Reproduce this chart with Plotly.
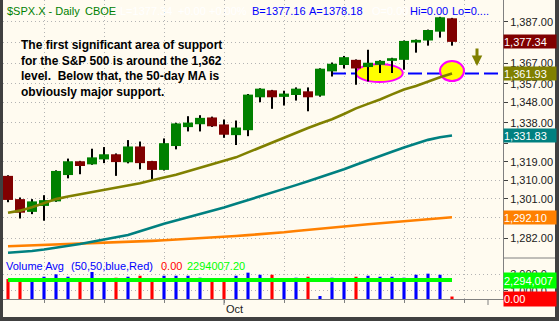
import plotly.graph_objects as go

# ---------------- data ----------------
opens = [1312.2, 1300.9, 1294.7, 1297.6, 1299.8, 1312.6, 1319.3, 1317.8, 1320.2, 1322.7,
         1318.8, 1326.5, 1319.4, 1315.1, 1326.7, 1335.9, 1337.3, 1340.6, 1337.2, 1332.0,
         1334.4, 1350.4, 1353.8, 1350.6, 1351.5, 1353.3, 1351.2, 1363.0, 1366.1, 1368.6,
         1365.1, 1366.2, 1368.1, 1368.6, 1377.0, 1378.0, 1382.3, 1388.8]
highs = [1312.5, 1301.7, 1300.9, 1302.8, 1314.9, 1320.6, 1319.5, 1325.4, 1326.2, 1323.1,
         1329.6, 1328.9, 1319.5, 1330.4, 1338.0, 1341.2, 1341.7, 1341.0, 1339.6, 1339.1,
         1352.0, 1354.8, 1354.0, 1353.6, 1355.2, 1355.2, 1364.5, 1367.3, 1370.5, 1368.8,
         1373.5, 1368.4, 1369.6, 1378.0, 1378.5, 1383.3, 1389.5, 1389.0]
lows = [1299.4, 1291.5, 1293.6, 1290.4, 1299.6, 1311.0, 1313.0, 1317.6, 1318.4, 1312.2,
        1318.3, 1315.4, 1310.6, 1314.8, 1325.1, 1333.8, 1333.8, 1336.0, 1330.7, 1327.2,
        1331.5, 1348.0, 1344.8, 1346.4, 1348.8, 1343.6, 1350.7, 1360.5, 1364.4, 1356.5,
        1358.1, 1362.2, 1362.2, 1363.8, 1372.1, 1375.5, 1379.4, 1375.5]
closes = [1300.5, 1294.3, 1299.8, 1300.4, 1314.6, 1319.3, 1317.0, 1321.2, 1322.7, 1318.9,
          1326.5, 1318.4, 1315.1, 1328.1, 1337.7, 1338.1, 1340.4, 1336.3, 1332.2, 1335.7,
          1351.7, 1354.6, 1350.4, 1352.2, 1354.6, 1350.4, 1364.3, 1366.7, 1369.9, 1364.4,
          1367.2, 1368.1, 1369.4, 1377.8, 1378.3, 1383.1, 1389.3, 1377.34]

ma20 = [1294.3, 1295.3, 1297.0, 1298.8, 1300.9, 1302.2, 1303.3, 1304.3, 1305.4, 1306.4,
        1307.4, 1308.6, 1310.1, 1311.4, 1312.7, 1314.4, 1316.1, 1317.8, 1319.5, 1321.2,
        1323.6, 1326.0, 1328.2, 1330.9, 1333.3, 1335.5, 1337.7, 1339.7, 1342.3, 1345.0,
        1347.2, 1349.3, 1351.8, 1354.2, 1355.9, 1358.1, 1360.1, 1361.93]
ma50 = [1274.8, 1275.2, 1275.7, 1276.4, 1277.2, 1278.1, 1279.1, 1280.2, 1281.3, 1282.4,
        1283.5, 1285.3, 1287.2, 1288.9, 1290.5, 1292.0, 1293.6, 1295.2, 1296.8, 1298.6,
        1300.4, 1302.1, 1303.8, 1305.7, 1307.7, 1309.6, 1311.5, 1313.4, 1315.4, 1317.6,
        1319.8, 1321.8, 1323.9, 1326.0, 1328.0, 1329.7, 1331.0, 1331.83]
ma200 = [1278.0, 1278.2, 1278.3, 1278.5, 1278.7, 1278.9, 1279.1, 1279.3, 1279.6, 1279.8,
         1280.1, 1280.3, 1280.6, 1280.9, 1281.2, 1281.5, 1281.8, 1282.2, 1282.6, 1283.0,
         1283.4, 1283.8, 1284.3, 1284.8, 1285.4, 1286.0, 1286.6, 1287.1, 1287.7, 1288.2,
         1288.7, 1289.2, 1289.7, 1290.2, 1290.6, 1291.0, 1291.6, 1292.10]

# volume in millions of shares, direction u = blue / d = red
volume = [2.42, 2.42, 2.29, 2.69, 2.98, 2.69, 2.42, 3.26, 2.42, 2.57,
          2.69, 2.81, 2.29, 2.81, 2.81, 2.81, 2.57, 2.42, 2.29, 2.81,
          3.18, 2.93, 2.93, 2.09, 2.57, 2.69, 0.36, 2.57, 2.42, 2.69,
          2.81, 2.69, 2.69, 2.57, 2.93, 3.06, 2.93, 0.30]
vol_dir = ['d', 'd', 'u', 'u', 'u', 'u', 'd', 'u', 'u', 'd',
           'u', 'd', 'd', 'u', 'u', 'u', 'u', 'd', 'd', 'u',
           'u', 'u', 'd', 'u', 'u', 'd', 'u', 'u', 'u', 'd',
           'u', 'u', 'u', 'u', 'u', 'u', 'u', 'd']
vol_avg = 2.294007
vol_avg_text = "2294007.20"
vol_avg_label = "2,294,007"
vol_red_value = 0.00

support_level = 1362

price_ticks = [1282, 1292, 1301, 1310, 1319, 1328, 1338, 1348, 1357, 1367, 1377, 1387]
# labels fully covered by the value boxes in the original are left blank
price_ticktext = ["1,282.00", "", "1,301.00", "1,310.00", "1,319.00", "",
                  "1,338.00", "1,348.00", "1,357.00", "1,367.00", "", "1,387.00"]
vol_ticks = [1.0, 3.0]
vol_ticktext = ["1,000.0", "3,000.0"]
week_ticks = [3, 8, 13, 18, 23, 28, 33, 38]
month_ticks = [18, 40]
month_labels = ["Oct", ""]

header_items = [
    ("$SPX.X - Daily", "#008000"), ("CBOE", "#008000"), ("L=1377.34", "#FFFFFF"),
    ("+0.00", "#FFFFFF"), ("+0.00%", "#FFFFFF"), ("B=1377.16", "#0000FF"),
    ("A=1378.18", "#0000FF"), ("O=0.00", "#FFFFFF"), ("Hi=0.00", "#0000FF"),
    ("Lo=0....", "#0000FF"),
]
note_text = ("The first significant area of support<br>for the S&P 500 is around the 1,362<br>"
             "level.  Below that, the 50-day MA is<br>obviously major support.")

# ---------------- layout helpers ----------------
W, H = 559, 321
BG = "#FFFBF0"
FONT = "Liberation Sans, Arial, sans-serif"
GRID = "#B4B4B4"
AX = "#808080"


def fx(p):
    return p / W


def fy(p):
    return 1 - p / H


n = len(closes)
idx = list(range(n))
up = [c >= o for o, c in zip(opens, closes)]

fig = go.Figure()

# wicks
fig.add_trace(go.Bar(x=idx, y=[h - l for h, l in zip(highs, lows)], base=lows, width=0.17,
                     marker=dict(color="#000000", line=dict(width=0)),
                     xaxis="x", yaxis="y", hoverinfo="skip"))
# bodies
fig.add_trace(go.Bar(x=idx, y=[max(abs(c - o), 0.5) for o, c in zip(opens, closes)],
                     base=[min(o, c) for o, c in zip(opens, closes)], width=0.83,
                     marker=dict(color=["#008000" if u else "#800000" for u in up],
                                 line=dict(width=0)),
                     xaxis="x", yaxis="y", hoverinfo="skip"))
# moving averages
for vals, col in [(ma200, "#FF8000"), (ma50, "#008080"), (ma20, "#808000")]:
    fig.add_trace(go.Scatter(x=idx, y=vals, mode="lines", line=dict(color=col, width=2.6),
                             xaxis="x", yaxis="y", hoverinfo="skip"))

# volume
fig.add_trace(go.Scatter(x=idx, y=[vol_avg] * n, mode="lines",
                         line=dict(color="#00FF00", width=4), xaxis="x", yaxis="y2",
                         hoverinfo="skip"))
fig.add_trace(go.Bar(x=idx, y=volume, width=0.26,
                     marker=dict(color=["#0000FF" if d == "u" else "#FF0000" for d in vol_dir],
                                 line=dict(width=0)),
                     xaxis="x", yaxis="y2", hoverinfo="skip"))

shapes = [
    # support line
    dict(type="line", xref="x", yref="y", x0=27, x1=41, y0=support_level, y1=support_level,
         line=dict(color="#0000FF", width=2, dash="14px,5px"), layer="between"),
    # highlight ellipses
    dict(type="circle", xref="x", yref="y", x0=29.0, x1=32.9, y0=1357.8, y1=1366.6,
         fillcolor="#FFFF00", line=dict(color="#FF00FF", width=2), layer="between"),
    dict(type="circle", xref="x", yref="y", x0=36.0, x1=38.0, y0=1358.3, y1=1368.0,
         fillcolor="#FFFF00", line=dict(color="#FF00FF", width=2), layer="between"),
    # pane separator on the scale
    dict(type="line", xref="paper", yref="paper", x0=fx(503), x1=fx(555), y0=fy(258), y1=fy(258),
         line=dict(color=AX, width=1)),
    # frame
    dict(type="rect", xref="paper", yref="paper", x0=0, x1=fx(3), y0=0, y1=1,
         fillcolor="#404040", line=dict(width=0), layer="above"),
    dict(type="rect", xref="paper", yref="paper", x0=fx(555), x1=1, y0=0, y1=1,
         fillcolor="#404040", line=dict(width=0), layer="above"),
    dict(type="rect", xref="paper", yref="paper", x0=0, x1=1, y0=0, y1=fy(317),
         fillcolor="#404040", line=dict(width=0), layer="above"),
]
for m in month_ticks:
    shapes.append(dict(type="line", xref="x", yref="paper", x0=m, x1=m, y0=fy(299), y1=fy(305),
                       line=dict(color=AX, width=1)))

annotations = []
# header
hx = [5, 83, 118, 176, 207, 250, 307, 370, 408, 450]
for (txt, col), x in zip(header_items, hx):
    annotations.append(dict(text=txt, x=fx(x), y=fy(11.5), xref="paper", yref="paper",
                            xanchor="left", yanchor="middle", showarrow=False,
                            font=dict(family=FONT, size=11, color=col)))
# comment
annotations.append(dict(text=note_text, x=fx(19), y=fy(68), xref="paper", yref="paper",
                        xanchor="left", yanchor="middle", align="left", showarrow=False,
                        font=dict(family=FONT, size=12, color="#000000", weight="bold")))
# arrow
annotations.append(dict(text="", x=fx(477), y=fy(66), xref="paper", yref="paper",
                        ax=0, ay=-19, showarrow=True, arrowhead=2, arrowsize=0.7,
                        arrowwidth=3, arrowcolor="#808000"))
# volume header
for txt, x, col in [("Volume Avg", 4, "#0000FF"), ("(50,50,blue,Red)", 69, "#0000FF"),
                    ("%.2f" % vol_red_value, 159, "#FF0000"), (vol_avg_text, 185, "#00FF00")]:
    annotations.append(dict(text=txt, x=fx(x), y=fy(266), xref="paper", yref="paper",
                            xanchor="left", yanchor="middle", showarrow=False,
                            font=dict(family=FONT, size=11, color=col)))
# month label
annotations.append(dict(text=month_labels[0], x=month_ticks[0], y=fy(309), xref="x", yref="paper",
                        xanchor="left", yanchor="middle", showarrow=False,
                        font=dict(family=FONT, size=11, color="#202020")))
# value boxes on the scale
boxes = [
    ("{:,.2f}".format(closes[-1]), closes[-1], "y", "#800000", 13),
    ("{:,.2f}".format(ma20[-1]), ma20[-1], "y", "#808000", 13),
    ("{:,.2f}".format(ma50[-1]), ma50[-1], "y", "#008080", 13),
    ("{:,.2f}".format(ma200[-1]), ma200[-1], "y", "#FF8000", 13),
    (vol_avg_label, vol_avg, "y2", "#00FF00", 15),
    ("%.2f" % vol_red_value, vol_red_value, "y2", "#FF0000", 14),
]
for txt, val, yr, col, hgt in boxes:
    annotations.append(dict(text=txt, x=fx(503), y=val, xref="paper", yref=yr,
                            xanchor="left", yanchor="middle", showarrow=False,
                            width=52, height=hgt, align="left", bgcolor=col, borderpad=0,
                            font=dict(family=FONT, size=11, color="#FFFFFF")))

fig.update_layout(
    width=W, height=H, margin=dict(l=0, r=0, t=0, b=0),
    paper_bgcolor=BG, plot_bgcolor=BG, showlegend=False, barmode="overlay",
    font=dict(family=FONT, size=11, color="#202020"),
    xaxis=dict(domain=[fx(3), fx(503)], range=[-0.417, 41.25], anchor="y2",
               showline=True, linecolor=AX, linewidth=1, tickvals=week_ticks,
               ticks="outside", ticklen=3, tickcolor=AX, showticklabels=False,
               showgrid=True, gridcolor=GRID, griddash="1px,3px", zeroline=False),
    yaxis=dict(domain=[fy(258), 1], range=[1272.28, 1397.69], side="right", anchor="x",
               showline=True, linecolor=AX, linewidth=1, tickvals=price_ticks,
               ticktext=price_ticktext, ticks="outside", ticklen=4, tickcolor="#404040",
               tickfont=dict(family=FONT, size=11, color="#202020"),
               showgrid=True, gridcolor=GRID, griddash="1px,3px", zeroline=False),
    yaxis2=dict(domain=[fy(299), fy(258)], range=[0, 4.95], side="right", anchor="x",
                showline=True, linecolor=AX, linewidth=1, tickvals=vol_ticks,
                ticktext=vol_ticktext, ticks="outside", ticklen=4, tickcolor="#404040",
                tickfont=dict(family=FONT, size=11, color="#202020"),
                showgrid=True, gridcolor=GRID, griddash="1px,3px", zeroline=False),
    shapes=shapes, annotations=annotations,
)

fig.write_html("out.html", config={"displayModeBar": False})
